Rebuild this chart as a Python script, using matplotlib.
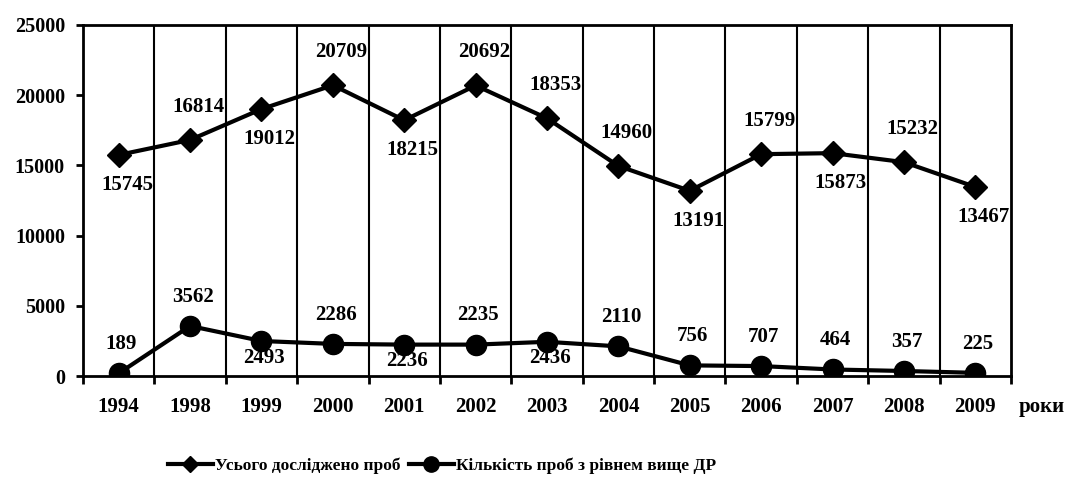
import numpy as np
import matplotlib.pyplot as plt
from matplotlib.lines import Line2D

plt.rcParams['font.family'] = ['Liberation Serif', 'DejaVu Serif']
plt.rcParams['font.weight'] = 'bold'

years = ['1994', '1998', '1999', '2000', '2001', '2002', '2003',
         '2004', '2005', '2006', '2007', '2008', '2009']
total_samples = [15745, 16814, 19012, 20709, 18215, 20692, 18353,
                 14960, 13191, 15799, 15873, 15232, 13467]
above_limit = [189, 3562, 2493, 2286, 2236, 2235, 2436,
               2110, 756, 707, 464, 357, 225]
# label placement: 1 = above point, -1 = below
total_pos = [-1, 1, -1, 1, -1, 1, 1, 1, -1, 1, -1, 1, -1]
above_pos = [1, 1, -1, 1, -1, 1, -1, 1, 1, 1, 1, 1, 1]

fig = plt.figure(figsize=(10.85, 4.87), dpi=100)
ax = fig.add_axes([83/1085, 1-376/487, (1011-83)/1085, (376-25)/487])

x = np.arange(len(years))
ax.plot(x, total_samples, color='black', lw=3, marker='D', ms=12)
ax.plot(x, above_limit, color='black', lw=3, marker='o', ms=14.5)

for xi, v, p in zip(x, total_samples, total_pos):
    ax.annotate(str(v), (xi, v), xytext=(6, 24 if p > 0 else -21.5),
                textcoords='offset points', ha='center', va='center',
                fontsize=15, fontweight='bold')
for xi, v, p in zip(x, above_limit, above_pos):
    ax.annotate(str(v), (xi, v), xytext=(2, 21 if p > 0 else -12),
                textcoords='offset points', ha='center', va='center',
                fontsize=15, fontweight='bold')

ax.set_xlim(-0.5, len(years) - 0.5)
ax.set_ylim(0, 25000)
ax.set_yticks(np.arange(0, 25001, 5000))
ax.set_xticks(x)
ax.set_xticklabels(years)
ax.set_xticks(np.arange(-0.5, len(years)), minor=True)
ax.tick_params(axis='x', which='major', length=0, pad=15, labelsize=15)
ax.tick_params(axis='x', which='minor', length=6, width=2)
ax.tick_params(axis='y', length=5, width=2, labelsize=14.5, pad=8)
for lab in ax.get_xticklabels() + ax.get_yticklabels():
    lab.set_fontweight('bold')
for b in np.arange(0.5, len(years) - 0.5):
    ax.axvline(b, color='black', lw=1.5, zorder=0)
for s in ax.spines.values():
    s.set_linewidth(2)

fig.text(1042/1085, 1-407/487, 'роки', ha='center', va='center',
         fontsize=15, fontweight='bold')

h1 = Line2D([], [], color='black', lw=3, marker='D', ms=8)
h2 = Line2D([], [], color='black', lw=3, marker='o', ms=11)
fig.legend([h1, h2], ['Усього досліджено проб', 'Кількість проб з рівнем вище ДР'],
           loc='center', bbox_to_anchor=(442/1085, 1-466/487), ncol=2,
           frameon=False, handlelength=2.6, handletextpad=0.15,
           columnspacing=0.45, prop={'weight': 'bold', 'size': 12.5})

fig.savefig('out.png', dpi=100)
